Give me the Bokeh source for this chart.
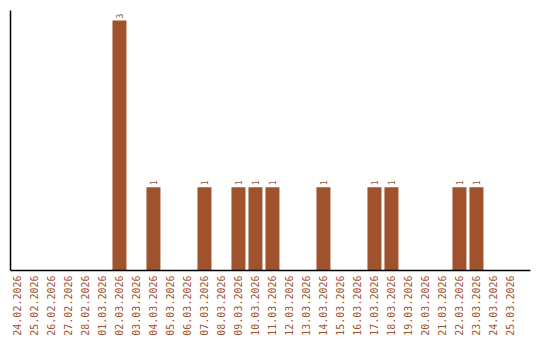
import math
from bokeh.plotting import figure
from bokeh.models import Range1d, FixedTicker, ColumnDataSource
from bokeh.core.properties import value
from bokeh.embed import file_html
from bokeh.resources import INLINE

dates = ["24.02.2026", "25.02.2026", "26.02.2026", "27.02.2026", "28.02.2026",
         "01.03.2026", "02.03.2026", "03.03.2026", "04.03.2026", "05.03.2026",
         "06.03.2026", "07.03.2026", "08.03.2026", "09.03.2026", "10.03.2026",
         "11.03.2026", "12.03.2026", "13.03.2026", "14.03.2026", "15.03.2026",
         "16.03.2026", "17.03.2026", "18.03.2026", "19.03.2026", "20.03.2026",
         "21.03.2026", "22.03.2026", "23.03.2026", "24.03.2026", "25.03.2026"]
counts = [0, 0, 0, 0, 0,
          0, 3, 0, 1, 0,
          0, 1, 0, 1, 1,
          1, 0, 0, 1, 0,
          0, 1, 1, 0, 0,
          0, 1, 1, 0, 0]

COLOR = "#A0522D"
idx = list(range(len(dates)))

p = figure(width=540, height=340, output_backend="svg", toolbar_location=None,
           x_range=Range1d(-0.41, 30.18), y_range=Range1d(0, 3.12),
           min_border_left=10, min_border_right=10, min_border_top=10,
           min_border_bottom=70)
p.outline_line_color = None
p.xgrid.visible = False
p.ygrid.visible = False
p.background_fill_color = "white"
p.border_fill_color = "white"

src = ColumnDataSource(dict(x=idx, top=counts))
p.vbar(x="x", top="top", width=14/17, source=src, fill_color=COLOR, line_color=None)

lab_src = ColumnDataSource(dict(x=[i for i, c in zip(idx, counts) if c],
                                y=[c for c in counts if c],
                                t=[str(c) for c in counts if c]))
p.text(x="x", y="y", text="t", source=lab_src, angle=math.pi/2,
       x_offset=0, y_offset=-2,
       text_align="left", text_baseline="middle",
       text_font=value("DejaVu Sans Mono"), text_font_size="8px",
       text_color=COLOR)

p.xaxis.ticker = FixedTicker(ticks=idx)
p.xaxis.major_label_overrides = {i: d for i, d in zip(idx, dates)}
p.xaxis.major_label_orientation = math.pi/2
p.xaxis.major_label_text_font = "DejaVu Sans Mono"
p.xaxis.major_label_text_font_size = "10px"
p.xaxis.major_label_text_color = COLOR
p.xaxis.major_tick_line_color = None
p.xaxis.minor_tick_line_color = None
p.xaxis.major_tick_out = 0
p.xaxis.major_tick_in = 0
p.xaxis.minor_tick_out = 0
p.xaxis.minor_tick_in = 0
p.xaxis.axis_line_color = "black"
p.xaxis.axis_line_width = 1.5
p.xaxis.major_label_standoff = 5

p.yaxis.ticker = FixedTicker(ticks=[])
p.yaxis.major_tick_line_color = None
p.yaxis.minor_tick_line_color = None
p.yaxis.major_tick_out = 0
p.yaxis.major_tick_in = 0
p.yaxis.minor_tick_out = 0
p.yaxis.minor_tick_in = 0
p.yaxis.axis_line_color = "black"
p.yaxis.axis_line_width = 1.5
p.yaxis.major_label_standoff = 0

open("out.html", "w").write(file_html(p, INLINE))
